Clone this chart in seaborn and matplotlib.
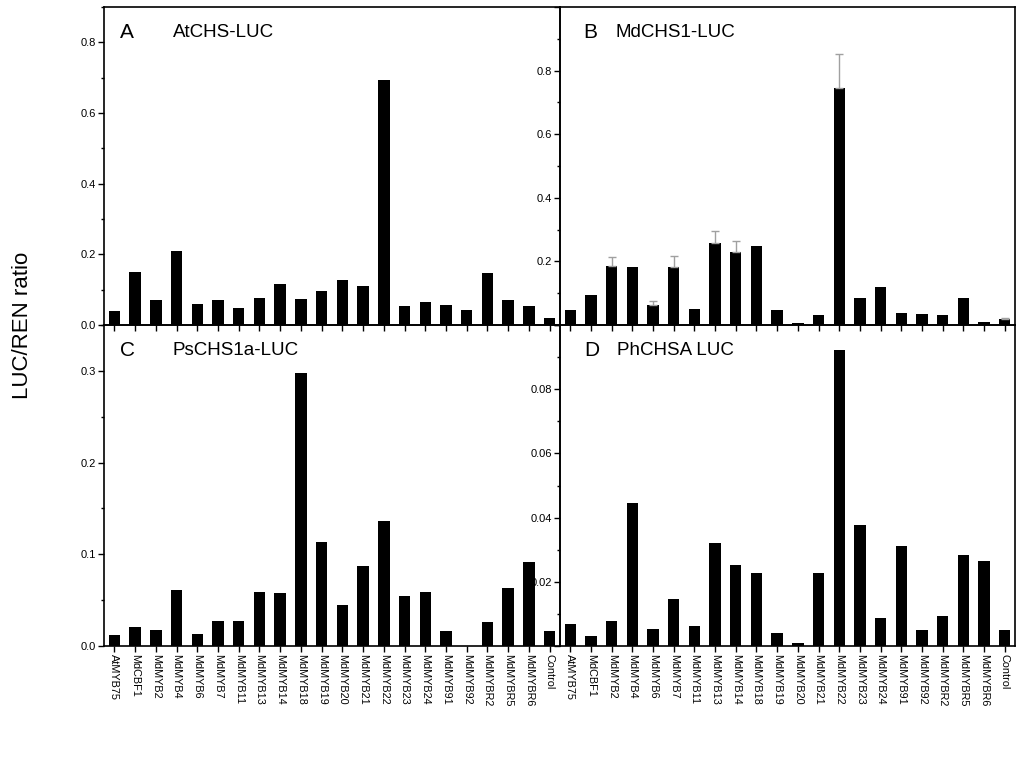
import matplotlib
matplotlib.use("Agg")
import matplotlib.pyplot as plt
import seaborn as sns
import numpy as np
import pandas as pd
from matplotlib.ticker import AutoMinorLocator, MultipleLocator, FuncFormatter

categories = ["AtMYB75", "MdCBF1", "MdMYB2", "MdMYB4", "MdMYB6", "MdMYB7", "MdMYB11",
              "MdMYB13", "MdMYB14", "MdMYB18", "MdMYB19", "MdMYB20", "MdMYB21", "MdMYB22",
              "MdMYB23", "MdMYB24", "MdMYB91", "MdMYB92", "MdMYBR2", "MdMYBR5", "MdMYBR6",
              "Control"]

atchs = [0.039, 0.149, 0.071, 0.210, 0.059, 0.072, 0.049, 0.076, 0.116, 0.073, 0.097,
         0.126, 0.110, 0.694, 0.053, 0.065, 0.058, 0.042, 0.147, 0.071, 0.053, 0.020]

mdchs1 = [0.048, 0.093, 0.185, 0.181, 0.062, 0.183, 0.049, 0.258, 0.229, 0.249, 0.048,
          0.007, 0.033, 0.745, 0.086, 0.121, 0.039, 0.036, 0.031, 0.084, 0.008, 0.018]
mdchs1_err = [0.0, 0.0, 0.029, 0.0, 0.014, 0.034, 0.0, 0.039, 0.035, 0.0, 0.0,
              0.0, 0.0, 0.107, 0.0, 0.0, 0.0, 0.0, 0.0, 0.0, 0.0, 0.005]

pschs1a = [0.012, 0.021, 0.017, 0.061, 0.013, 0.027, 0.027, 0.059, 0.058, 0.298, 0.113,
           0.045, 0.087, 0.136, 0.055, 0.059, 0.016, 0.0, 0.026, 0.063, 0.092, 0.016]

phchsa = [0.0070, 0.0031, 0.0077, 0.0444, 0.0052, 0.0146, 0.0061, 0.0320, 0.0252, 0.0226,
          0.0041, 0.0010, 0.0228, 0.0921, 0.0377, 0.0086, 0.0312, 0.0049, 0.0092, 0.0284,
          0.0264, 0.0049]

panel_letters = ["A", "B", "C", "D"]
panel_titles = ["AtCHS-LUC", "MdCHS1-LUC", "PsCHS1a-LUC", "PhCHSA LUC"]
y_limits = [0.9, 1.0, 0.35, 0.1]
y_major = [0.2, 0.2, 0.1, 0.02]
y_label = "LUC/REN ratio"

sns.set_theme(style="ticks")
plt.rcParams["font.family"] = ["Liberation Sans", "DejaVu Sans"]
plt.rcParams["text.color"] = "black"
plt.rcParams["axes.labelcolor"] = "black"
plt.rcParams["xtick.color"] = "black"
plt.rcParams["ytick.color"] = "black"

fig = plt.figure(figsize=(10.24, 7.68), dpi=100)
W, H = 1024.0, 768.0
boxes = [
    (104, 7, 560, 325),
    (560, 7, 1015, 325),
    (104, 325, 560, 646),
    (560, 325, 1015, 646),
]
series = [atchs, mdchs1, pschs1a, phchsa]
letter_x = [0.035, 0.051, 0.035, 0.053]
title_x = [0.151, 0.121, 0.151, 0.125]
z_order = [2, 1, 2, 1]


def make_fmt(k):
    step = y_major[k]
    top = y_limits[k]

    def f(v, p):
        if v > top - 1e-9:
            return ""
        if k in (1, 3) and abs(v) < 1e-12:
            return ""
        return ("%.2f" % v) if step < 0.05 else ("%.1f" % v)
    return f


for k, (x0, y0, x1, y1) in enumerate(boxes):
    ax = fig.add_axes([x0 / W, 1 - y1 / H, (x1 - x0) / W, (y1 - y0) / H])
    ax.set_zorder(z_order[k])
    ax.patch.set_alpha(0)
    df = pd.DataFrame({"cat": categories, "val": series[k]})
    sns.barplot(data=df, x="cat", y="val", color="black", width=0.55,
                errorbar=None, ax=ax, saturation=1, edgecolor="black", linewidth=0)
    if k == 1:
        xs = np.arange(len(categories))
        err = np.array(mdchs1_err)
        mask = err > 0
        ax.errorbar(xs[mask], np.array(mdchs1)[mask],
                    yerr=[np.zeros(mask.sum()), err[mask]],
                    fmt="none", ecolor="#a0a0a0", elinewidth=1.0, capsize=3, capthick=1.0)
    ax.set_xlim(-0.5, len(categories) - 0.5)
    ax.set_ylim(0, y_limits[k])
    ax.yaxis.set_major_locator(MultipleLocator(y_major[k]))
    ax.yaxis.set_minor_locator(AutoMinorLocator(2))
    ax.set_xlabel("")
    ax.set_ylabel("")
    for s in ax.spines.values():
        s.set_visible(True)
        s.set_linewidth(1.2)
        s.set_color("black")
    ax.tick_params(axis="both", which="major", direction="out", length=4, width=1,
                   labelsize=8, colors="black", pad=2)
    ax.tick_params(axis="y", which="minor", direction="out", length=2.5, width=1)
    if k < 2:
        ax.tick_params(axis="x", labelbottom=False)
    else:
        ax.set_xticks(range(len(categories)))
        ax.set_xticklabels(categories, rotation=-90, fontsize=7.8)
    ax.yaxis.set_major_formatter(FuncFormatter(make_fmt(k)))
    ax.text(letter_x[k], 0.92, panel_letters[k], transform=ax.transAxes,
            fontsize=15, ha="left", va="center", color="black")
    ax.text(title_x[k], 0.92, panel_titles[k], transform=ax.transAxes,
            fontsize=13.5, ha="left", va="center", color="black")

fig.text(0.022, 1 - 325 / H, y_label, rotation=90, fontsize=16, ha="center", va="center",
         color="black")

fig.savefig("out.png", dpi=100)
